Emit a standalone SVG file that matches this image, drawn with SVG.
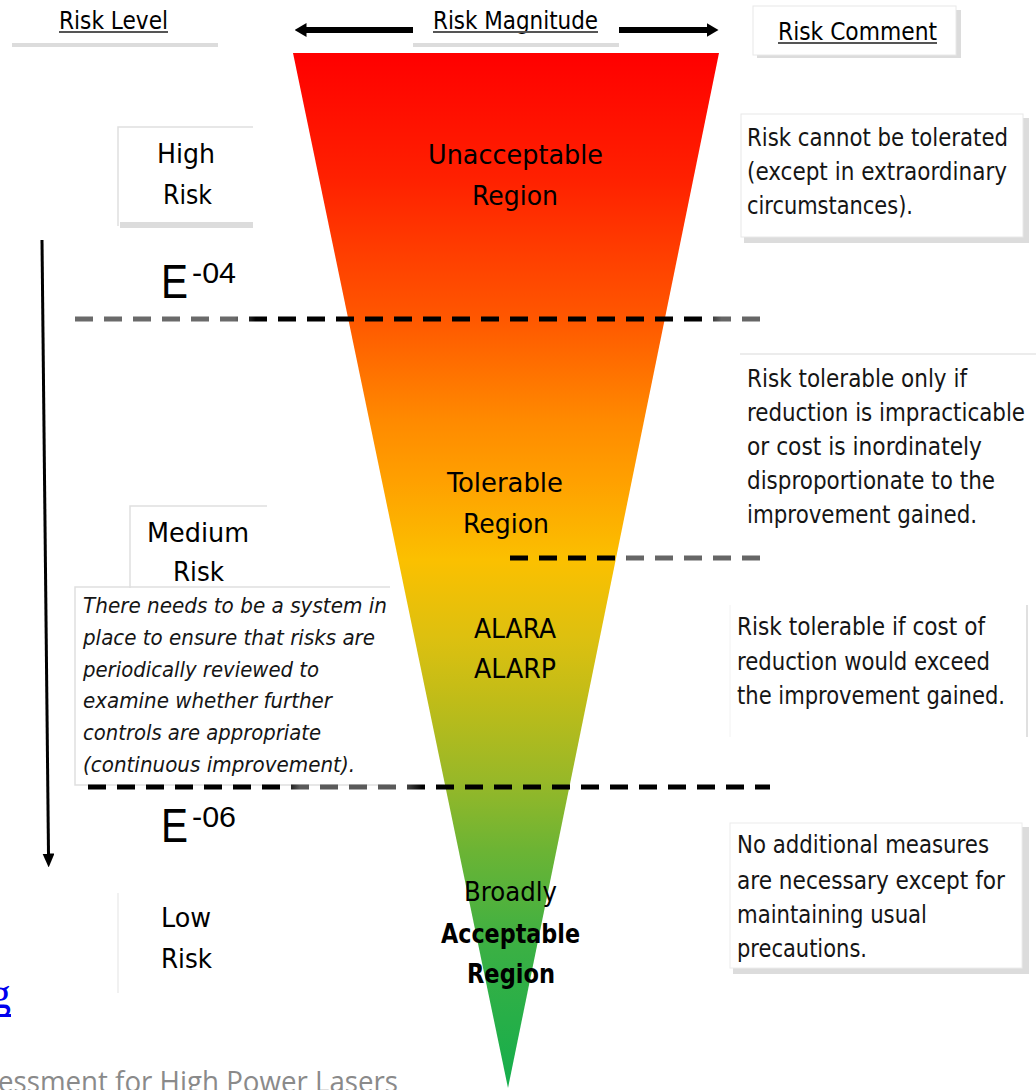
<svg xmlns="http://www.w3.org/2000/svg" width="1036" height="1090" viewBox="0 0 1036 1090">
<style>
.t{font-family:"DejaVu Sans Condensed","Liberation Sans",Arial,sans-serif;fill:#000}
.hd{font-size:24px}
.lbl{font-size:27px}
.cm{font-size:24px;fill:#151515}
.it{font-size:21px;font-style:italic;fill:#151515}
.ar{font-family:"Liberation Sans",Arial,sans-serif;fill:#000}
.ul{stroke:#555;stroke-width:2}
.bar{fill:#dcdcdc}
.edge{fill:none;stroke:#e0e0e0;stroke-width:1.5}
.dash{fill:none;stroke-width:5;stroke-dasharray:18 11}
</style>
<defs>
<linearGradient id="tri" x1="0" y1="0" x2="0" y2="1">
<stop offset="0" stop-color="#FF0000"/>
<stop offset="0.12" stop-color="#FF2000"/>
<stop offset="0.258" stop-color="#FF5800"/>
<stop offset="0.355" stop-color="#FF8A00"/>
<stop offset="0.413" stop-color="#FFA000"/>
<stop offset="0.49" stop-color="#FBC000"/>
<stop offset="0.567" stop-color="#DCC010"/>
<stop offset="0.625" stop-color="#C0BC18"/>
<stop offset="0.702" stop-color="#98B828"/>
<stop offset="0.77" stop-color="#6CB434"/>
<stop offset="0.866" stop-color="#3AB044"/>
<stop offset="1" stop-color="#14AE4C"/>
</linearGradient>
<linearGradient id="d1" gradientUnits="userSpaceOnUse" x1="75" y1="0" x2="770" y2="0">
<stop offset="0" stop-color="#6a6a6a"/>
<stop offset="0.23" stop-color="#6a6a6a"/>
<stop offset="0.26" stop-color="#000"/>
<stop offset="0.9" stop-color="#000"/>
<stop offset="0.93" stop-color="#666"/>
<stop offset="1" stop-color="#666"/>
</linearGradient>
<linearGradient id="d2" gradientUnits="userSpaceOnUse" x1="88" y1="0" x2="770" y2="0">
<stop offset="0" stop-color="#000"/>
<stop offset="0.29" stop-color="#000"/>
<stop offset="0.31" stop-color="#5a5a5a"/>
<stop offset="0.46" stop-color="#5a5a5a"/>
<stop offset="0.49" stop-color="#000"/>
<stop offset="1" stop-color="#000"/>
</linearGradient>
<linearGradient id="d3" gradientUnits="userSpaceOnUse" x1="510" y1="0" x2="760" y2="0">
<stop offset="0" stop-color="#000"/>
<stop offset="0.42" stop-color="#000"/>
<stop offset="0.47" stop-color="#666"/>
<stop offset="1" stop-color="#666"/>
</linearGradient>
<marker id="ah" viewBox="0 0 12 14" markerWidth="12" markerHeight="14" refX="0.5" refY="7" orient="auto" markerUnits="userSpaceOnUse">
<path d="M0,0 L12,7 L0,14 Z" fill="#000"/>
</marker>
<marker id="ahv" viewBox="0 0 14 12" markerWidth="14" markerHeight="12" refX="0.5" refY="6" orient="auto" markerUnits="userSpaceOnUse">
<path d="M0,0 L14,6 L0,12 Z" fill="#000"/>
</marker>
</defs>

<rect width="1036" height="1090" fill="#fff"/>

<!-- triangle -->
<g id="triangle">
<polygon points="293,53 719,53 508,1088" fill="url(#tri)"/>
</g>

<!-- header -->
<g id="hdr-risk-level">
<rect class="bar" x="12" y="43" width="206" height="4"/>
<text class="t hd" x="59" y="29" textLength="109" lengthAdjust="spacingAndGlyphs">Risk Level</text>
<line class="ul" x1="59" y1="32" x2="168" y2="32"/>
</g>
<g id="hdr-risk-magnitude">
<rect class="bar" x="413" y="43" width="206" height="4"/>
<text class="t hd" x="433" y="29" textLength="165" lengthAdjust="spacingAndGlyphs">Risk Magnitude</text>
<line class="ul" x1="433" y1="32" x2="598" y2="32"/>
</g>
<g id="hdr-risk-comment">
<rect class="bar" x="757" y="10" width="204" height="48"/>
<rect x="753" y="6" width="203" height="49" fill="#fff" stroke="#e8e8e8" stroke-width="1"/>
<text class="t hd" x="778" y="40" textLength="159" lengthAdjust="spacingAndGlyphs">Risk Comment</text>
<line class="ul" x1="778" y1="43" x2="937" y2="43"/>
</g>

<!-- region labels -->
<g id="region-unacceptable">
<text class="t lbl" x="428" y="164" textLength="175" lengthAdjust="spacingAndGlyphs">Unacceptable</text>
<text class="t lbl" x="472" y="205" textLength="86" lengthAdjust="spacingAndGlyphs">Region</text>
</g>
<g id="region-tolerable">
<text class="t lbl" x="447" y="492" textLength="116" lengthAdjust="spacingAndGlyphs">Tolerable</text>
<text class="t lbl" x="463" y="533" textLength="86" lengthAdjust="spacingAndGlyphs">Region</text>
</g>
<g id="region-alara">
<text class="t lbl" x="474" y="638" textLength="82" lengthAdjust="spacingAndGlyphs">ALARA</text>
<text class="t lbl" x="474" y="678" textLength="82" lengthAdjust="spacingAndGlyphs">ALARP</text>
</g>
<g id="region-broadly">
<text class="t lbl" x="464" y="901" textLength="93" lengthAdjust="spacingAndGlyphs">Broadly</text>
<text class="t lbl" x="441" y="943" textLength="139" lengthAdjust="spacingAndGlyphs" font-weight="bold">Acceptable</text>
<text class="t lbl" x="467" y="983" textLength="88" lengthAdjust="spacingAndGlyphs" font-weight="bold">Region</text>
</g>

<!-- risk levels -->
<g id="level-high">
<rect class="bar" x="120" y="222" width="133" height="6"/>
<polyline class="edge" points="253,127 118,127 118,226"/>
<text class="t lbl" x="157" y="163" textLength="58" lengthAdjust="spacingAndGlyphs">High</text>
<text class="t lbl" x="163" y="204" textLength="49" lengthAdjust="spacingAndGlyphs">Risk</text>
</g>
<g id="level-medium">
<polyline class="edge" points="267,506 130,506 130,588"/>
<text class="t lbl" x="147" y="542" textLength="102" lengthAdjust="spacingAndGlyphs">Medium</text>
<text class="t lbl" x="173" y="581" textLength="51" lengthAdjust="spacingAndGlyphs">Risk</text>
</g>
<g id="note-review">
<polyline class="edge" points="390,587 75,587 75,785 390,785"/>
<text class="t it" x="83" y="613" textLength="304" lengthAdjust="spacingAndGlyphs">There needs to be a system in</text>
<text class="t it" x="83" y="645" textLength="292" lengthAdjust="spacingAndGlyphs">place to ensure that risks are</text>
<text class="t it" x="83" y="677" textLength="236" lengthAdjust="spacingAndGlyphs">periodically  reviewed to</text>
<text class="t it" x="83" y="708" textLength="249" lengthAdjust="spacingAndGlyphs">examine whether further</text>
<text class="t it" x="83" y="740" textLength="238" lengthAdjust="spacingAndGlyphs">controls are appropriate</text>
<text class="t it" x="83" y="772" textLength="272" lengthAdjust="spacingAndGlyphs">(continuous improvement).</text>
</g>
<g id="level-low">
<line x1="118" y1="893" x2="118" y2="993" stroke="#ececec" stroke-width="1.5"/>
<text class="t lbl" x="161" y="927" textLength="50" lengthAdjust="spacingAndGlyphs">Low</text>
<text class="t lbl" x="161" y="968" textLength="51" lengthAdjust="spacingAndGlyphs">Risk</text>
</g>

<!-- thresholds -->
<g id="threshold-e04">
<text class="ar"><tspan x="161" y="298" font-size="48" textLength="27" lengthAdjust="spacingAndGlyphs">E</tspan><tspan x="192" y="283" font-size="29" textLength="44" lengthAdjust="spacingAndGlyphs">-04</tspan></text>
</g>
<g id="threshold-e06">
<text class="ar"><tspan x="161" y="842" font-size="48" textLength="27" lengthAdjust="spacingAndGlyphs">E</tspan><tspan x="192" y="827" font-size="29" textLength="44" lengthAdjust="spacingAndGlyphs">-06</tspan></text>
</g>

<!-- comments -->
<g id="comment-unacceptable">
<rect class="bar" x="744" y="118" width="285" height="125"/>
<rect x="741" y="114" width="282" height="123" fill="#fff" stroke="#e8e8e8" stroke-width="1"/>
<text class="t cm" x="747" y="146" textLength="261" lengthAdjust="spacingAndGlyphs">Risk cannot be tolerated</text>
<text class="t cm" x="747" y="180" textLength="260" lengthAdjust="spacingAndGlyphs">(except in extraordinary</text>
<text class="t cm" x="747" y="214" textLength="166" lengthAdjust="spacingAndGlyphs">circumstances).</text>
</g>
<g id="comment-tolerable">
<line x1="740" y1="354" x2="1036" y2="354" stroke="#e6e6e6" stroke-width="1.5"/>
<text class="t cm" x="747" y="387" textLength="220" lengthAdjust="spacingAndGlyphs">Risk tolerable only if</text>
<text class="t cm" x="747" y="421" textLength="278" lengthAdjust="spacingAndGlyphs">reduction is impracticable</text>
<text class="t cm" x="747" y="455" textLength="235" lengthAdjust="spacingAndGlyphs">or cost is inordinately</text>
<text class="t cm" x="747" y="489" textLength="248" lengthAdjust="spacingAndGlyphs">disproportionate to the</text>
<text class="t cm" x="747" y="523" textLength="230" lengthAdjust="spacingAndGlyphs">improvement gained.</text>
</g>
<g id="comment-alara">
<line x1="730" y1="605" x2="730" y2="737" stroke="#f2f2f2" stroke-width="1"/>
<line x1="1027" y1="605" x2="1027" y2="737" stroke="#e0e0e0" stroke-width="2"/>
<text class="t cm" x="737" y="635" textLength="248" lengthAdjust="spacingAndGlyphs">Risk tolerable if cost of</text>
<text class="t cm" x="737" y="670" textLength="253" lengthAdjust="spacingAndGlyphs">reduction would exceed</text>
<text class="t cm" x="737" y="704" textLength="268" lengthAdjust="spacingAndGlyphs">the improvement gained.</text>
</g>
<g id="comment-broadly">
<rect class="bar" x="733" y="827" width="296" height="147"/>
<rect x="730" y="823" width="292" height="145" fill="#fff" stroke="#ececec" stroke-width="1"/>
<text class="t cm" x="737" y="853" textLength="252" lengthAdjust="spacingAndGlyphs">No additional measures</text>
<text class="t cm" x="737" y="889" textLength="268" lengthAdjust="spacingAndGlyphs">are necessary except for</text>
<text class="t cm" x="737" y="923" textLength="190" lengthAdjust="spacingAndGlyphs">maintaining usual</text>
<text class="t cm" x="737" y="957" textLength="130" lengthAdjust="spacingAndGlyphs">precautions.</text>
</g>

<!-- footer fragments -->
<g id="footer">
<text x="-11" y="1008" font-family="Liberation Serif,serif" font-size="44" fill="#0000ee">g</text>
<rect x="0" y="1014" width="11" height="3" fill="#0000ee"/>
<text x="-2" y="1092" font-family="Open Sans,Liberation Sans,sans-serif" font-size="30" fill="#8a8a8a" textLength="400" lengthAdjust="spacingAndGlyphs">essment for High Power Lasers</text>
</g>

<!-- connectors -->
<g id="connectors">
<line x1="413" y1="30" x2="306" y2="30" stroke="#000" stroke-width="6" marker-end="url(#ah)"/>
<line x1="619" y1="30" x2="707" y2="30" stroke="#000" stroke-width="6" marker-end="url(#ah)"/>
<line x1="42" y1="240" x2="48.5" y2="854" stroke="#000" stroke-width="3" marker-end="url(#ahv)"/>
<line class="dash" x1="75" y1="319" x2="770" y2="319" stroke="url(#d1)"/>
<line class="dash" x1="88" y1="787" x2="770" y2="787" stroke="url(#d2)"/>
<line class="dash" x1="510" y1="558" x2="760" y2="558" stroke="url(#d3)"/>
</g>
</svg>
